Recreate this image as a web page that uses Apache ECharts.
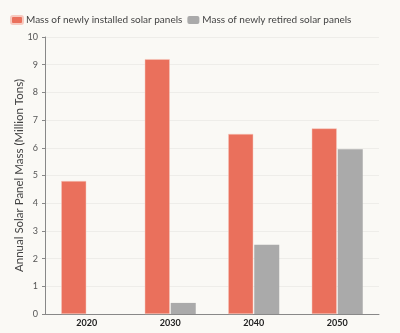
<!DOCTYPE html>
<html>
<head>
<meta charset="utf-8">
<script src="https://cdn.jsdelivr.net/npm/echarts@6/dist/echarts.min.js"></script>
<style>
html,body{margin:0;padding:0;background:#faf9f5;}
#chart{width:400px;height:333px;}
</style>
</head>
<body>
<div id="chart"></div>
<script>
const years = ['2020', '2030', '2040', '2050'];
const installed = [4.8, 9.2, 6.5, 6.7];
const retired = [0, 0.4, 2.5, 5.95];
const seriesNames = ['Mass of newly installed solar panels', 'Mass of newly retired solar panels'];
const yTicks = [0, 1, 2, 3, 4, 5, 6, 7, 8, 9, 10];

const font = 'Lato, "Open Sans", sans-serif';
const chart = echarts.init(document.getElementById('chart'));
chart.setOption({
  backgroundColor: '#faf9f5',
  textStyle: { fontFamily: font },
  legend: {
    left: 5, top: 10, width: 395,
    itemWidth: 12, itemHeight: 8, itemGap: 5,
    icon: 'roundRect',
    textStyle: { fontSize: 10, color: '#444', fontFamily: font, padding: [0, 0, 0, -2] },
    data: seriesNames
  },
  grid: { left: 45, right: 21, top: 37, bottom: 19, containLabel: false },
  xAxis: {
    type: 'category',
    data: years,
    axisLine: { lineStyle: { color: '#888', width: 1 } },
    axisTick: { show: false },
    axisLabel: { fontSize: 9, fontWeight: 'bold', color: '#222', margin: 5, fontFamily: font }
  },
  yAxis: {
    type: 'value',
    min: yTicks[0], max: yTicks[yTicks.length - 1], interval: 1,
    name: 'Annual Solar Panel Mass (Million Tons)',
    nameLocation: 'middle', nameGap: 20, nameMoveOverlap: false,
    nameTextStyle: { fontSize: 11.5, color: '#444', fontFamily: font },
    axisLine: { show: true, lineStyle: { color: '#888' } },
    axisTick: { show: true, length: 3, lineStyle: { color: '#888' } },
    axisLabel: { fontSize: 9, color: '#555', margin: 7, fontFamily: font },
    splitLine: { lineStyle: { color: '#eeede9' } }
  },
  series: [
    {
      name: seriesNames[0], type: 'bar', data: installed,
      barWidth: 25, barGap: '4%',
      itemStyle: { color: '#ea705c', borderColor: '#f7c9bf', borderWidth: 0.5 }
    },
    {
      name: seriesNames[1], type: 'bar', data: retired,
      barWidth: 25,
      itemStyle: { color: '#aaaaaa' }
    }
  ]
});
</script>
</body>
</html>
